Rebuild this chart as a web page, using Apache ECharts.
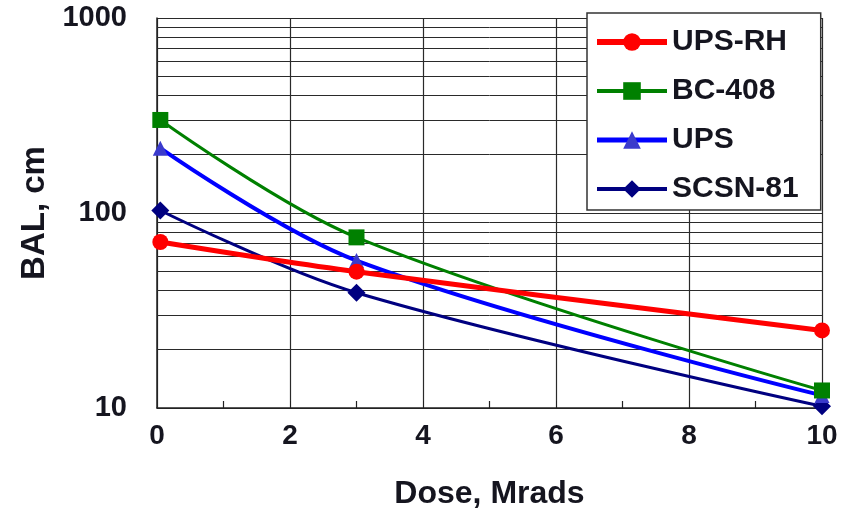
<!DOCTYPE html>
<html>
<head>
<meta charset="utf-8">
<script src="https://cdn.jsdelivr.net/npm/echarts@6/dist/echarts.min.js"></script>
<style>
  html, body { margin: 0; padding: 0; background: #fff; }
  #chart { width: 841px; height: 511px; }
</style>
</head>
<body>
<div id="chart"></div>
<script>
// Dose values (Mrads) at which the attenuation length was measured
const doseValues = [0.05, 3, 10];

// Bulk attenuation length (cm) for each scintillator
const upsRh  = [71, 50, 25];
const bc408  = [300, 75, 12.3];
const ups    = [215, 57, 11.6];
const scsn81 = [103, 39, 10.2];

// Intermediate decade lines of the logarithmic grid
const logGridValues = [20, 30, 40, 50, 60, 70, 80, 90, 200, 300, 400, 500, 600, 700, 800, 900];

const FONT = '"Liberation Sans", Arial, sans-serif';
const TEXT = '#15151f';

function pairs(values) {
  return doseValues.map((d, i) => [d, values[i]]);
}

const chart = echarts.init(document.getElementById('chart'), null, { renderer: 'canvas' });

const seriesDefs = [
  { name: 'UPS-RH',  data: upsRh,  color: '#ff0000', symbol: 'circle',   size: 16, width: 5, legendWidth: 6 },
  { name: 'BC-408',  data: bc408,  color: '#008000', symbol: 'rect',     size: 16, width: 3, legendWidth: 4 },
  { name: 'UPS',     data: ups,    color: '#0000ff', symbol: 'triangle', size: 15, width: 4, legendWidth: 5, markerColor: '#3a3acc' },
  { name: 'SCSN-81', data: scsn81, color: '#000080', symbol: 'diamond',  size: 18, width: 3, legendWidth: 4 }
];

const series = seriesDefs.map((s, idx) => ({
  name: s.name,
  type: 'line',
  data: pairs(s.data),
  smooth: 0.35,
  symbol: s.symbol,
  symbolSize: s.size,
  showAllSymbol: true,
  z: 10 - idx,
  lineStyle: { color: s.color, width: s.width },
  itemStyle: { color: s.markerColor || s.color, borderWidth: 0 },
  emphasis: { disabled: true },
  animation: false
}));

// Horizontal lines at every intermediate value of each decade
series.push({
  name: 'grid',
  type: 'line',
  data: [],
  silent: true,
  z: 1,
  markLine: {
    silent: true,
    symbol: ['none', 'none'],
    label: { show: false },
    lineStyle: { color: '#2a2a2a', width: 1, type: 'solid' },
    animation: false,
    data: logGridValues.map(v => ({ yAxis: v }))
  }
});

chart.setOption({
  animation: false,
  backgroundColor: '#ffffff',
  grid: {
    left: 157, right: 19, top: 18, bottom: 103,
    containLabel: false,
    outerBoundsMode: 'none'
  },
  legend: {
    orient: 'vertical',
    left: 587,
    top: 13,
    padding: [14, 22, 6, 7],
    itemGap: 19,
    itemWidth: 70,
    itemHeight: 22,
    backgroundColor: '#ffffff',
    borderColor: '#333333',
    borderWidth: 1.5,
    borderRadius: 0,
    data: seriesDefs.map(s => ({
      name: s.name,
      lineStyle: { color: s.color, width: s.legendWidth }
    })),
    textStyle: { fontFamily: FONT, fontWeight: 'bold', fontSize: 30, color: TEXT },
    z: 20
  },
  xAxis: {
    type: 'value',
    min: 0,
    max: 10,
    interval: 2,
    name: 'Dose, Mrads',
    nameLocation: 'middle',
    nameGap: 70,
    nameTextStyle: { fontFamily: FONT, fontWeight: 'bold', fontSize: 32, color: TEXT },
    axisLine: { show: true, lineStyle: { color: '#222', width: 1.5 } },
    axisTick: { show: true, inside: true, length: 7, lineStyle: { color: '#222' } },
    minorTick: { show: true, splitNumber: 2, length: 7, lineStyle: { color: '#222', width: 1.2 } },
    axisLabel: { fontFamily: FONT, fontWeight: 'bold', fontSize: 28, color: TEXT, margin: 14 },
    splitLine: { show: true, lineStyle: { color: '#2a2a2a', width: 1.2 } }
  },
  yAxis: {
    type: 'log',
    logBase: 10,
    min: 10,
    max: 1000,
    name: 'BAL, cm',
    nameLocation: 'middle',
    nameGap: 100,
    nameTextStyle: { fontFamily: FONT, fontWeight: 'bold', fontSize: 33, color: TEXT },
    axisLine: { show: true, lineStyle: { color: '#222', width: 1.5 } },
    axisTick: { show: false },
    axisLabel: {
      fontFamily: FONT, fontWeight: 'bold', fontSize: 29, color: TEXT, margin: 30,
      formatter: v => String(v)
    },
    splitLine: { show: true, lineStyle: { color: '#2a2a2a', width: 1.2 } }
  },
  series: series
});
</script>
</body>
</html>
